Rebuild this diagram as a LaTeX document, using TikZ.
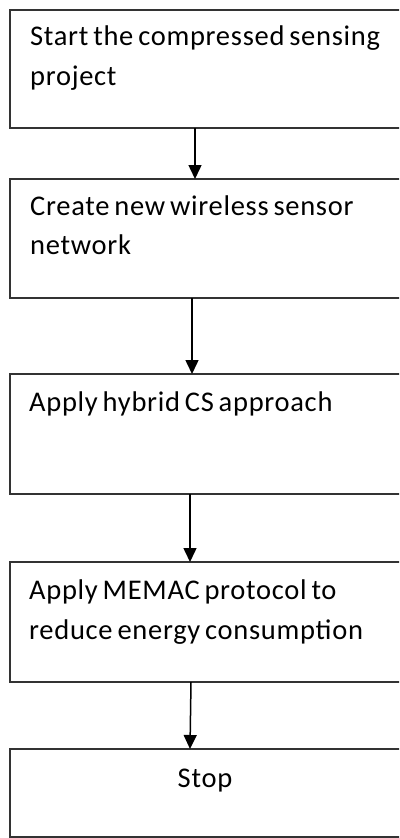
\documentclass[tikz,border=0pt]{standalone}
\usepackage{fontspec}
\setmainfont{Carlito}[LetterSpace=2.5]
\usetikzlibrary{arrows.meta}
\newcommand{\boxfont}{\fontsize{28.5}{33}\selectfont\spaceskip=0.17em plus 0.05em minus 0.05em\relax}
\tikzset{
  box/.style={draw=black!80, line width=1.8pt, anchor=north west, inner sep=0pt, outer sep=0pt, minimum width=391pt},
  txt/.style={anchor=base west, inner sep=0pt, font=\boxfont, text=black},
  ctxt/.style={anchor=base, inner sep=0pt, font=\boxfont, text=black},
  arr/.style={draw=black, line width=1.5pt, -{Triangle[width=13pt,length=14pt]}}
}
\begin{document}
\begin{tikzpicture}[x=1pt,y=-1pt]
\useasboundingbox (0,0) rectangle (399,838);
\clip (0,0) rectangle (399,838);
\node[box, minimum height=118pt] (b1) at (10,10) {};
\node[box, minimum height=119pt] (b2) at (10,179) {};
\node[box, minimum height=120pt] (b3) at (10,374) {};
\node[box, minimum height=120pt] (b4) at (10,562) {};
\node[box, minimum height=88pt] (b5) at (10,749) {};
\node[txt] (t1a) at (30,45.5) {Start the compressed sensing};
\node[txt] (t1b) at (30,85) {project};
\node[txt] (t2a) at (30,215) {Create new wireless sensor};
\node[txt] (t2b) at (30,254.5) {network};
\node[txt] (t3a) at (29,411) {Apply hybrid CS approach};
\node[txt] (t4a) at (29,599) {Apply MEMAC protocol to};
\node[txt] (t4b) at (29,639) {reduce energy consumption};
\node[ctxt] (t5a) at (205,787) {Stop};
\draw[arr] ([xshift=185pt]b1.south west) -- ([xshift=185pt]b2.north west);
\draw[arr] ([xshift=182pt]b2.south west) -- ([xshift=182pt]b3.north west);
\draw[arr] ([xshift=180pt]b3.south west) -- ([xshift=180pt]b4.north west);
\draw[arr] ([xshift=181pt]b4.south west) -- ([xshift=180pt]b5.north west);
\end{tikzpicture}
\end{document}
